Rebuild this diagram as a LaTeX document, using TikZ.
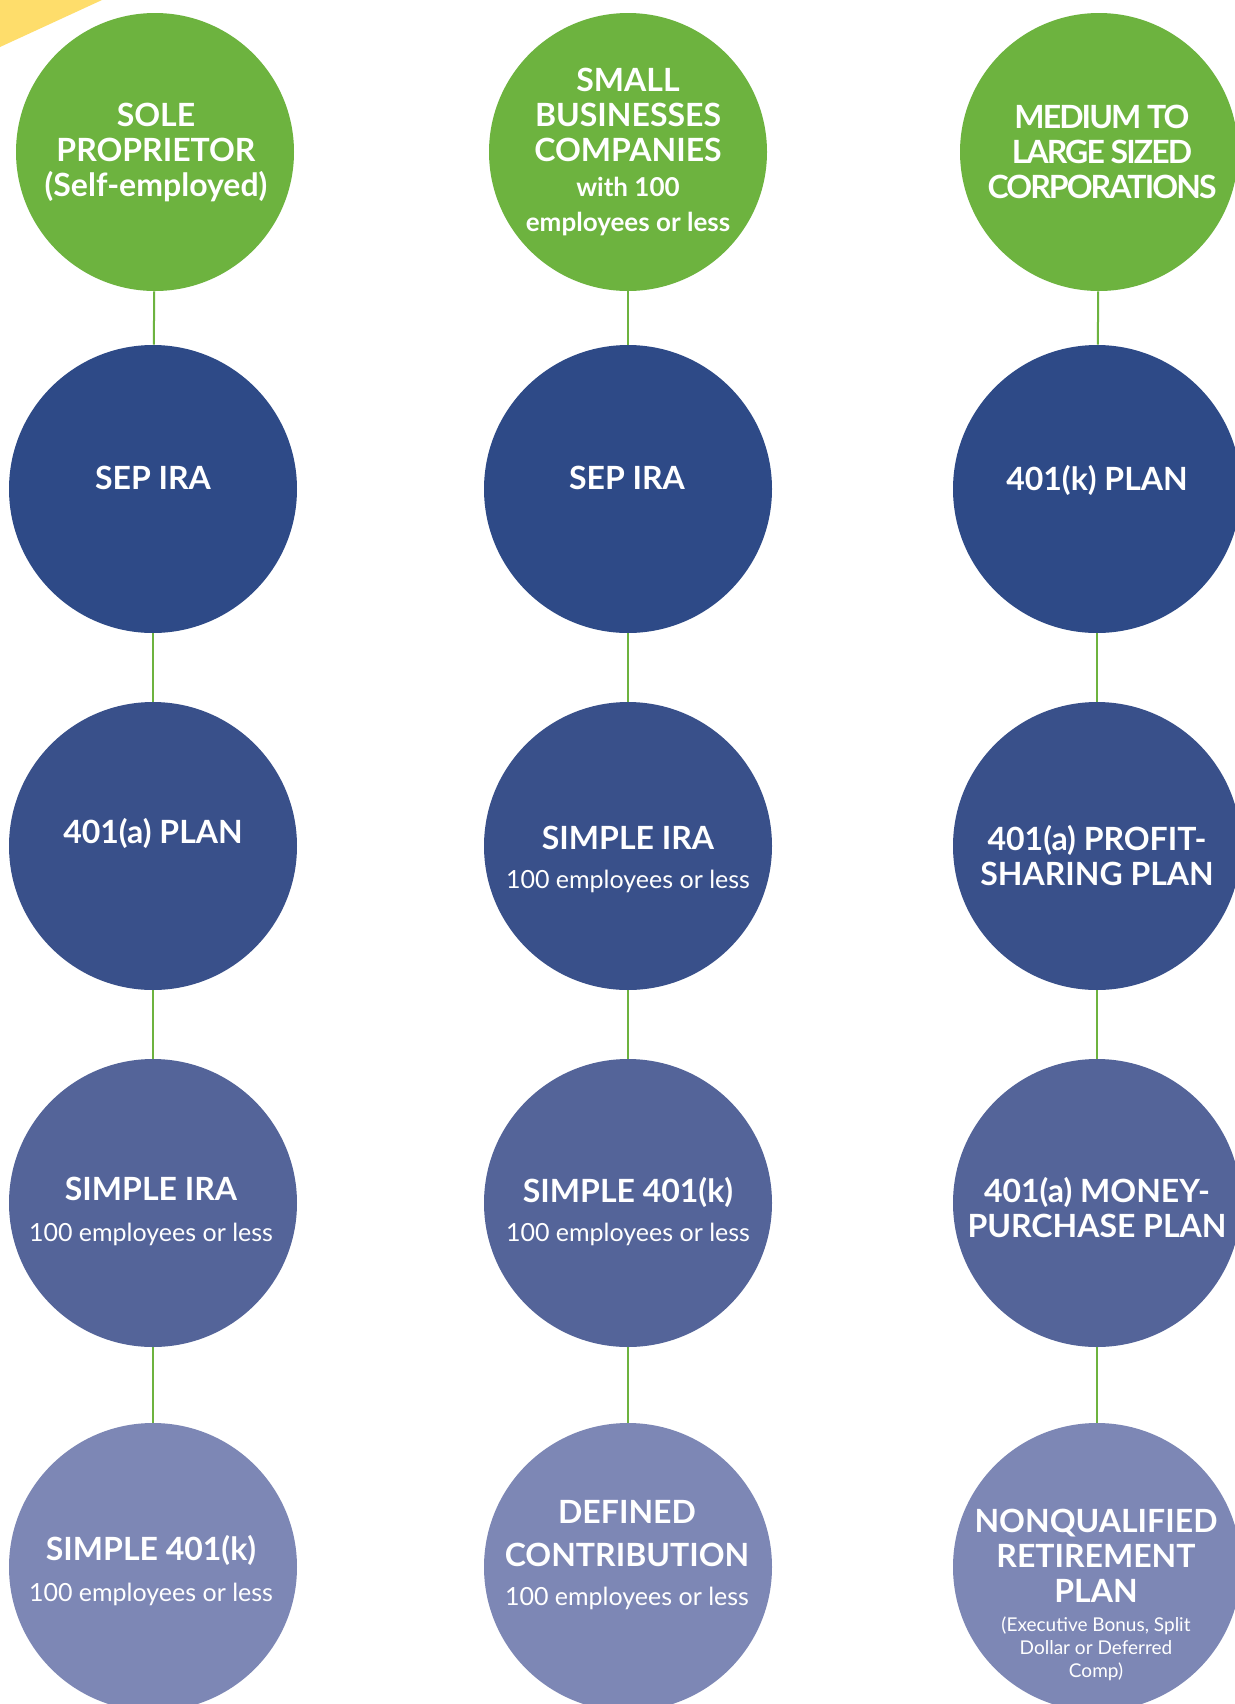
\documentclass[tikz,border=0pt]{standalone}
\usepackage{fontspec}
\setmainfont{Lato}
\usepackage{tikz}
\usepackage{xcolor}
\usetikzlibrary{positioning}

\definecolor{leafgreen}{HTML}{6DB33F}
\definecolor{navyA}{HTML}{2E4A87}
\definecolor{navyB}{HTML}{39508A}
\definecolor{navyC}{HTML}{546499}
\definecolor{navyD}{HTML}{7D87B5}
\definecolor{sunny}{HTML}{FEDD6B}

\newcommand{\lite}{\mdseries\fontsize{12.5}{15}\selectfont}
\newcommand{\finept}{\mdseries\fontsize{9.5}{11.5}\selectfont}

\begin{document}
\begin{tikzpicture}[
          x=0.5pt, y=-0.5pt,
          client/.style={circle, fill=leafgreen, minimum size=139pt, inner sep=0pt},
          plan/.style={circle, minimum size=144pt, inner sep=0pt},
          txt/.style={text=white, align=center, inner sep=0pt, font=\bfseries\fontsize{16}{17.5}\selectfont},
          link/.style={draw=leafgreen, line width=1pt}
      ]
        \clip (0,0) rectangle (1235,1704);
        \fill[white] (0,0) rectangle (1235,1704);
        \fill[sunny] (0,0) -- (102,0) -- (0,47) -- cycle;

        % who the plans are for
        \node[client] (sole) at (155,152) {};
        \node[client] (small) at (628,152) {};
        \node[client] (corp) at (1099,152) {};

        % sole proprietor column
        \node[plan, fill=navyA] (sole-sep) at (153,489) {};
        \node[plan, fill=navyB] (sole-401a) at (153,846) {};
        \node[plan, fill=navyC] (sole-simple) at (153,1203) {};
        \node[plan, fill=navyD] (sole-s401k) at (153,1567) {};

        % small business column
        \node[plan, fill=navyA] (small-sep) at (628,489) {};
        \node[plan, fill=navyB] (small-simple) at (628,846) {};
        \node[plan, fill=navyC] (small-s401k) at (628,1203) {};
        \node[plan, fill=navyD] (small-dc) at (628,1567) {};

        % corporation column
        \node[plan, fill=navyA] (corp-401k) at (1097,489) {};
        \node[plan, fill=navyB] (corp-profit) at (1097,846) {};
        \node[plan, fill=navyC] (corp-money) at (1097,1203) {};
        \node[plan, fill=navyD] (corp-nq) at (1097,1567) {};

        \draw[link] (sole) -- (sole-sep);
        \draw[link] (sole-sep) -- (sole-401a);
        \draw[link] (sole-401a) -- (sole-simple);
        \draw[link] (sole-simple) -- (sole-s401k);
        \draw[link] (small) -- (small-sep);
        \draw[link] (small-sep) -- (small-simple);
        \draw[link] (small-simple) -- (small-s401k);
        \draw[link] (small-s401k) -- (small-dc);
        \draw[link] (corp) -- (corp-401k);
        \draw[link] (corp-401k) -- (corp-profit);
        \draw[link] (corp-profit) -- (corp-money);
        \draw[link] (corp-money) -- (corp-nq);

        % labels
        \node[txt] (sole-t) at (156,152) {SOLE\\PROPRIETOR\\(Self-employed)};
        \node[txt] (small-t) at (628,152) {SMALL\\BUSINESSES\\COMPANIES\\{\fontsize{13}{16.5}\selectfont with 100}\\{\fontsize{13}{16.5}\selectfont employees or less}};
        \node[txt, font=\bfseries\fontsize{16}{17.5}\selectfont\addfontfeature{LetterSpace=-6}] (corp-t) at (1102,152) {MEDIUM TO\\LARGE SIZED\\CORPORATIONS};

        \node[txt] (sole-sep-t) at (153,478) {SEP IRA};
        \node[txt] (sole-401a-t) at (153,833) {401(a) PLAN};
        \node[txt] (sole-simple-t) at (151,1211) {SIMPLE IRA\\[3pt]{\lite 100 employees or less}};
        \node[txt] (sole-s401k-t) at (151,1571) {SIMPLE 401(k)\\[3pt]{\lite 100 employees or less}};

        \node[txt] (small-sep-t) at (627,478) {SEP IRA};
        \node[txt] (small-simple-t) at (628,859) {SIMPLE IRA\\[2pt]{\lite 100 employees or less}};
        \node[txt] (small-s401k-t) at (628,1212) {SIMPLE 401(k)\\[2pt]{\lite 100 employees or less}};
        \node[txt] (small-dc-t) at (627,1555) {DEFINED\\[4pt]CONTRIBUTION\\[2pt]{\lite 100 employees or less}};

        \node[txt] (corp-401k-t) at (1097,480) {401(k) PLAN};
        \node[txt] (corp-profit-t) at (1097,856) {401(a) PROFIT-\\SHARING PLAN};
        \node[txt] (corp-money-t) at (1097,1208) {401(a) MONEY-\\PURCHASE PLAN};
        \node[txt] (corp-nq-t) at (1096,1595) {NONQUALIFIED\\RETIREMENT\\PLAN\\[-3pt]{\finept (Executive Bonus, Split}\\[-6pt]{\finept Dollar or Deferred}\\[-6pt]{\finept Comp)}};
      \end{tikzpicture}
\end{document}
